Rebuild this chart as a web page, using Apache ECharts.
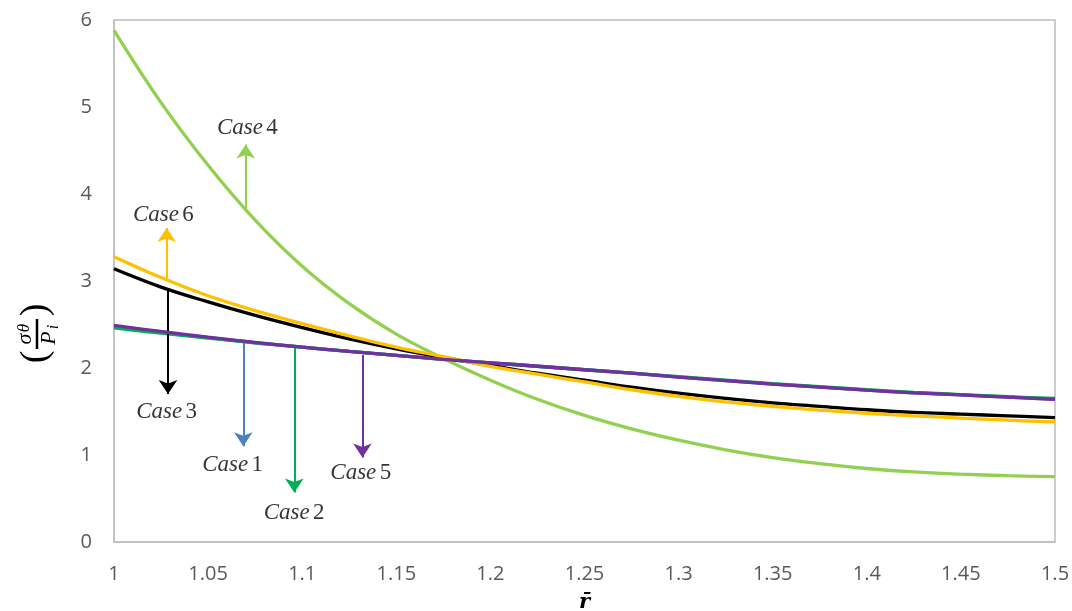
<!DOCTYPE html>
<html>
<head>
<meta charset="utf-8">
<script src="https://cdn.jsdelivr.net/npm/echarts@6/dist/echarts.min.js"></script>
<style>html,body{margin:0;padding:0;background:#fff;}#c{width:1072px;height:611px;}</style>
</head>
<body>
<div id="c"></div>
<script>
// ---- data ----
const rValues = [1, 1.025, 1.05, 1.075, 1.1, 1.125, 1.15, 1.175, 1.2, 1.225, 1.25, 1.275, 1.3, 1.325, 1.35, 1.375, 1.4, 1.425, 1.45, 1.475, 1.5];
const case1 = [2.48, 2.41, 2.35, 2.29, 2.24, 2.19, 2.145, 2.10, 2.06, 2.02, 1.98, 1.94, 1.895, 1.855, 1.815, 1.78, 1.745, 1.715, 1.69, 1.665, 1.64];
const case2 = [2.46, 2.40, 2.345, 2.29, 2.24, 2.19, 2.145, 2.10, 2.06, 2.02, 1.98, 1.94, 1.90, 1.86, 1.82, 1.785, 1.75, 1.72, 1.695, 1.67, 1.65];
const case3 = [3.14, 2.93, 2.76, 2.605, 2.465, 2.335, 2.22, 2.12, 2.03, 1.94, 1.86, 1.78, 1.71, 1.65, 1.60, 1.56, 1.52, 1.49, 1.47, 1.45, 1.43];
const case4 = [5.88, 5.05, 4.33, 3.70, 3.17, 2.74, 2.39, 2.11, 1.86, 1.64, 1.455, 1.30, 1.17, 1.06, 0.97, 0.90, 0.845, 0.805, 0.78, 0.762, 0.752];
const case5 = [2.49, 2.42, 2.355, 2.295, 2.24, 2.19, 2.145, 2.10, 2.06, 2.02, 1.98, 1.94, 1.895, 1.855, 1.815, 1.78, 1.745, 1.715, 1.69, 1.665, 1.64];
const case6 = [3.28, 3.04, 2.83, 2.66, 2.51, 2.37, 2.24, 2.13, 2.02, 1.93, 1.84, 1.75, 1.675, 1.61, 1.56, 1.515, 1.48, 1.45, 1.425, 1.40, 1.38];

// arrows: [r, fromY, toY]
const arrow1 = [1.0687, 2.29, 1.10];
const arrow2 = [1.0958, 2.25, 0.57];
const arrow3 = [1.0287, 2.90, 1.70];
const arrow4 = [1.0700, 3.81, 4.57];
const arrow5 = [1.1320, 2.15, 0.97];
const arrow6 = [1.0280, 3.02, 3.61];

// case labels: [r, y, number]
const caseLabels = [
  [1.0630, 0.89, '1'],
  [1.0957, 0.33, '2'],
  [1.0280, 1.50, '3'],
  [1.0709, 4.76, '4'],
  [1.1311, 0.79, '5'],
  [1.0262, 3.76, '6']
];

const xTicks = { min: 1, max: 1.5, interval: 0.05 };
const yTicks = { min: 0, max: 6, interval: 1 };

// ---- chart ----
const colors = {
  c1: '#4F81BD', c2: '#00B050', c3: '#000000', c4: '#92D050', c5: '#7030A0', c6: '#FFC000'
};
function pairs(ys) { return rValues.map((r, i) => [r, ys[i]]); }
function arrowLine(a, color) {
  return {
    silent: true,
    symbol: ['none', 'arrow'],
    symbolSize: 14,
    label: { show: false },
    emphasis: { disabled: true },
    lineStyle: { color: color, width: 2, type: 'solid' },
    data: [[{ coord: [a[0], a[1]] }, { coord: [a[0], a[2]] }]]
  };
}
function lineSeries(name, ys, color, arrow, z) {
  return {
    name: name, type: 'line', data: pairs(ys), smooth: 0.4, symbol: 'none',
    lineStyle: { color: color, width: 3.3 }, z: z,
    emphasis: { disabled: true },
    markLine: arrowLine(arrow, color)
  };
}

const chart = echarts.init(document.getElementById('c'), null, { renderer: 'canvas' });
chart.setOption({
  animation: false,
  backgroundColor: '#ffffff',
  grid: { left: 114, right: 17, top: 20, bottom: 69, show: true, borderColor: '#bfbfbf', borderWidth: 1.5,
    outerBoundsMode: 'none', containLabel: false },
  xAxis: {
    type: 'value', min: xTicks.min, max: xTicks.max, interval: xTicks.interval,
    axisLine: { show: true, lineStyle: { color: '#bfbfbf', width: 1.5 } },
    axisTick: { show: false },
    splitLine: { show: false },
    axisLabel: { color: '#595959', fontFamily: 'Open Sans', fontSize: 20, margin: 22,
      formatter: v => String(+v.toFixed(2)) },
    name: 'r\u0304', nameLocation: 'middle', nameGap: 50, nameMoveOverlap: false,
    nameTextStyle: { fontFamily: 'DejaVu Serif', fontStyle: 'italic', fontWeight: 'bold', fontSize: 21, color: '#000',
      verticalAlign: 'top', lineHeight: 22 }
  },
  yAxis: {
    type: 'value', min: yTicks.min, max: yTicks.max, interval: yTicks.interval,
    axisLine: { show: true, lineStyle: { color: '#bfbfbf', width: 1.5 } },
    axisTick: { show: false },
    splitLine: { show: false },
    axisLabel: { color: '#595959', fontFamily: 'Open Sans', fontSize: 20, margin: 22 }
  },
  series: [
    lineSeries('Case 1', case1, colors.c1, arrow1, 2),
    lineSeries('Case 2', case2, colors.c2, arrow2, 3),
    lineSeries('Case 3', case3, colors.c3, arrow3, 4),
    lineSeries('Case 4', case4, colors.c4, arrow4, 5),
    lineSeries('Case 6', case6, colors.c6, arrow6, 6),
    lineSeries('Case 5', case5, colors.c5, arrow5, 7),
    {
      name: 'labels', type: 'scatter', symbolSize: 0, silent: true, z: 10,
      data: caseLabels,
      label: {
        show: true, position: 'inside',
        formatter: p => '{i|Case} {n|' + p.data[2] + '}',
        rich: {
          i: { fontFamily: 'Liberation Serif', fontStyle: 'italic', fontSize: 23, color: '#000' },
          n: { fontFamily: 'Liberation Serif', fontSize: 23, color: '#000' }
        }
      }
    }
  ],
  graphic: [{
    type: 'group', x: 36, y: 334, rotation: Math.PI / 2,
    children: [
      { type: 'text', x: -23, y: 0, style: { text: '(', font: '38px "Liberation Serif"', fill: '#000', textAlign: 'center', textVerticalAlign: 'middle' } },
      { type: 'text', x: 24, y: 0, style: { text: ')', font: '38px "Liberation Serif"', fill: '#000', textAlign: 'center', textVerticalAlign: 'middle' } },
      { type: 'text', x: -5, y: -11, style: { text: 'σ', font: 'italic 22px "Liberation Serif"', fill: '#000', textAlign: 'center', textVerticalAlign: 'middle' } },
      { type: 'text', x: 6, y: -11, style: { text: 'θ', font: 'italic 17px "Liberation Serif"', fill: '#000', textAlign: 'center', textVerticalAlign: 'middle' } },
      { type: 'line', shape: { x1: -15, y1: 1, x2: 15, y2: 1 }, style: { stroke: '#000', lineWidth: 2.5 } },
      { type: 'text', x: -4, y: 13, style: { text: 'P', font: 'italic 22px "Liberation Serif"', fill: '#000', textAlign: 'center', textVerticalAlign: 'middle' } },
      { type: 'text', x: 7, y: 18, style: { text: 'i', font: 'italic 16px "Liberation Serif"', fill: '#000', textAlign: 'center', textVerticalAlign: 'middle' } }
    ]
  }]
});
</script>
</body>
</html>
